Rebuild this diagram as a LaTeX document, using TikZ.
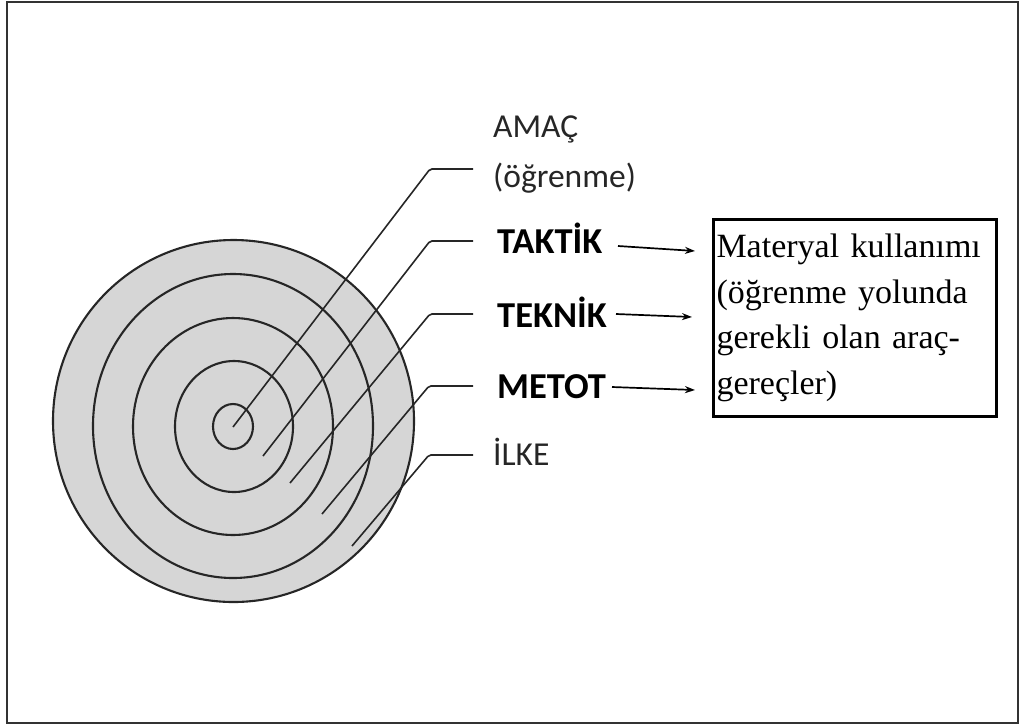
\documentclass[tikz,border=0pt]{standalone}
\usepackage{fontspec}
\setmainfont{Liberation Serif}
\newfontfamily\lblfont{Carlito}
\newfontfamily\lblbold{Carlito Bold}
\usetikzlibrary{arrows.meta}
\begin{document}
\begin{tikzpicture}[x=1pt,y=-1pt,
  ring/.style={draw=black!85,line width=2.1pt},
  leader/.style={draw=black!85,line width=1.6pt,rounded corners=2pt},
  lbl/.style={anchor=base west,inner sep=0pt,font=\lblfont\fontsize{33.5}{38}\selectfont,text=black!85},
  blbl/.style={anchor=base west,inner sep=0pt,font=\lblbold\fontsize{36.5}{40}\selectfont,text=black},
  arr/.style={draw=black,line width=1.7pt,-{Stealth[length=10pt,width=7pt]}},
  matbox/.style={draw=black,line width=3pt,anchor=north west,minimum width=281pt,minimum height=197pt,
    text width=277pt,inner xsep=3pt,align=left,font=\fontsize{34}{45.5}\selectfont}]
\useasboundingbox (0,0) rectangle (1019,724);
\draw[line width=2.4pt,draw=black!80] (7,2) rectangle (1018,723);
% target
\filldraw[fill=black!16,ring] (233.5,421) ellipse [x radius=180.5,y radius=181];
\draw[ring] (233,426) ellipse [x radius=140,y radius=152];
\draw[ring] (233,426.5) ellipse [x radius=100,y radius=108.5];
\draw[ring] (234,426.5) ellipse [x radius=59,y radius=65.5];
\draw[ring] (233,426.5) ellipse [x radius=20,y radius=22.5];
% labels
\node[lbl] (amac) at (493,137) {AMAÇ};
\node[lbl] (ogr) at (493,187) {(öğrenme)};
\node[blbl] (taktik) at (497,253) {TAKTİK};
\node[blbl] (teknik) at (497,327) {TEKNİK};
\node[blbl] (metot) at (497,398) {METOT};
\node[lbl] (ilke) at (493,465) {İLKE};
% leader lines
\coordinate (s1) at (233,427);  \coordinate (e1) at (473,169);
\coordinate (s2) at (263,456);  \coordinate (e2) at (473,241);
\coordinate (s3) at (290,483);  \coordinate (e3) at (473,314);
\coordinate (s4) at (322,514);  \coordinate (e4) at (473,386);
\coordinate (s5) at (352,546);  \coordinate (e5) at (473,455);
\draw[leader] (s1) -- (430,169) -- (e1);
\draw[leader] (s2) -- (430,241) -- (e2);
\draw[leader] (s3) -- (430,314) -- (e3);
\draw[leader] (s4) -- (429,386) -- (e4);
\draw[leader] (s5) -- (429,455) -- (e5);
% box
\node[matbox] (mat) at (712,218) {Materyal kullanımı\\(öğrenme yolunda\\gerekli olan araç-\\gereçler)};
% arrows
\coordinate (f1) at (618,246); \coordinate (t1) at (695,251);
\coordinate (f2) at (616,314); \coordinate (t2) at (692,317);
\coordinate (f3) at (612,387); \coordinate (t3) at (695,390);
\draw[arr] (f1) -- (t1);
\draw[arr] (f2) -- (t2);
\draw[arr] (f3) -- (t3);
\end{tikzpicture}
\end{document}
